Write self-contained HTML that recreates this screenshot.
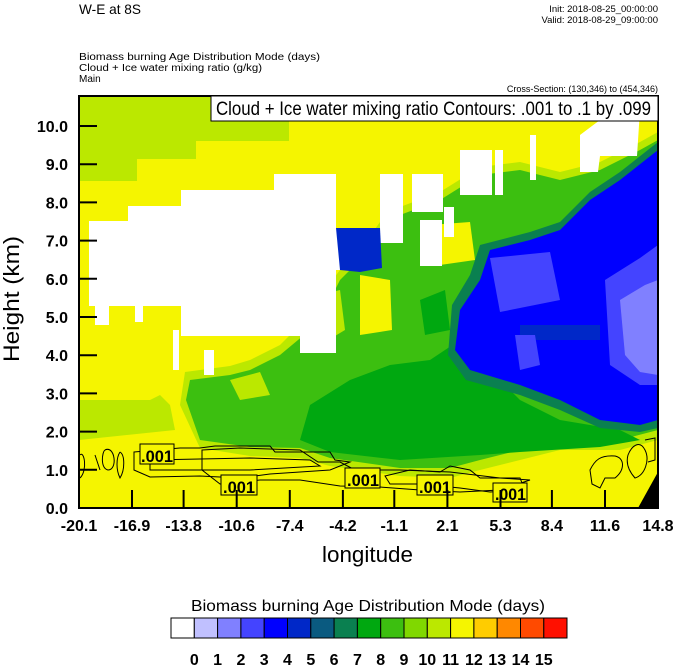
<!DOCTYPE html>
<html><head><meta charset="utf-8"><style>
html,body{margin:0;padding:0;background:#fff}
body{width:674px;height:667px;overflow:hidden}
svg{display:block}
text{font-family:"Liberation Sans",sans-serif}
</style></head><body>
<svg width="674" height="667" viewBox="0 0 674 667" xmlns="http://www.w3.org/2000/svg">
<defs><clipPath id="pc"><rect x="79" y="96" width="579" height="412"/></clipPath></defs>
<g clip-path="url(#pc)">
<rect x="79" y="96" width="579" height="412" fill="#f5f500"/>
<polygon fill="#bbe800" points="79,96 289,96 289,141 196,141 196,159 137,159 137,181 79,181"/>
<polygon fill="#bbe800" points="79,400 150,400 160,395 170,405 175,430 79,440"/>
<polygon fill="#bbe800" points="180,405 185,372 230,366 250,360 280,345 305,320 325,290 340,270 360,250 380,222 400,207 440,192 480,167 520,162 560,172 600,162 640,142 658,132 658,440 620,450 560,450 520,460 480,470 450,478 400,476 330,466 300,458 250,456 200,448"/>
<polygon fill="#3cbf10" points="186,400 190,380 230,375 250,370 280,355 310,330 330,300 340,280 360,260 380,230 400,215 440,200 480,175 520,170 560,180 600,170 640,150 658,140 658,430 620,440 560,440 520,450 480,460 450,468 400,468 330,458 300,448 250,447 200,440"/>
<polygon fill="#f5f500" points="360,275 390,280 392,330 360,335"/>
<polygon fill="#bbe800" points="300,300 340,290 345,330 320,345 300,335"/>
<polygon fill="#f5f500" points="430,225 470,222 475,260 440,265"/>
<polygon fill="#bbe800" points="230,380 260,372 270,395 240,400"/>
<polygon fill="#00a810" points="300,440 310,405 350,380 390,365 430,360 460,340 490,370 520,400 560,420 620,430 640,440 600,447 520,452 480,455 400,460 330,452"/>
<polygon fill="#00a810" points="420,300 445,290 450,330 425,335"/>
<polygon fill="#0a8050" points="480,245 530,232 560,222 590,192 620,172 658,142 658,428 640,432 600,428 560,410 520,395 466,380 448,355 452,305 470,275"/>
<polygon fill="#0000ff" points="490,250 530,240 560,230 590,200 620,180 658,150 658,420 640,425 600,420 560,400 520,385 470,370 455,350 460,310 480,280"/>
<polygon fill="#0028c8" points="520,325 600,325 600,340 520,340"/>
<polygon fill="#4444ff" points="490,258 550,252 560,300 500,312"/>
<polygon fill="#4444ff" points="605,280 640,258 658,245 658,385 640,385 610,365"/>
<polygon fill="#8080ff" points="620,300 645,285 658,280 658,375 640,372 625,355"/>
<polygon fill="#4444ff" points="515,335 535,335 540,365 520,370"/>
<polygon fill="#fff" points="89,221 128,221 128,206 181,206 181,190 274,190 274,174 336,174 336,228 380,228 380,174 403,174 403,243 360,243 360,270 336,270 336,353 300,353 300,336 181,336 181,306 89,306"/>
<rect x="95" y="300" width="14" height="25" fill="#fff"/>
<rect x="135" y="300" width="8" height="22" fill="#fff"/>
<rect x="173" y="330" width="6" height="40" fill="#fff"/>
<rect x="204" y="350" width="10" height="25" fill="#fff"/>
<polygon fill="#0028c8" points="336,228 380,228 382,268 360,272 340,270"/>
<rect x="412" y="174" width="31" height="38" fill="#fff"/>
<rect x="420" y="220" width="22" height="46" fill="#fff"/>
<rect x="444" y="207" width="10" height="30" fill="#fff"/>
<rect x="460" y="150" width="32" height="45" fill="#fff"/>
<rect x="495" y="150" width="8" height="45" fill="#fff"/>
<rect x="530" y="135" width="6" height="45" fill="#fff"/>
<polygon fill="#fff" points="580,135 600,120 600,96 645,96 640,110 637,156 600,156 598,172 580,172"/>
<polygon fill="#000" points="638,508 658,472 658,508"/>
<g fill="none" stroke="#000" stroke-width="1">
<path d="M134,452 L180,448 L200,448 L215,446 L270,446 L275,452 L330,452 L335,460 L350,462 L330,470 L300,472 L270,474 L240,478 L200,476 L150,477 L134,470 Z"/>
<path d="M150,460 L250,458 L310,460 L320,466 L250,470 L150,470 Z"/>
<path d="M202,450 L240,448 L300,450 L318,462 L340,462 L355,470 L400,470 L450,472 L500,478 L530,480 L500,490 L460,492 L420,490 L380,487 L340,486 L300,480 L260,480 L220,484 L202,470 Z"/>
<path d="M80,455 C84,450 88,470 80,478 M95,455 L100,470 M105,450 C115,445 118,470 108,470 C100,468 102,452 105,450 M120,452 C125,455 125,470 120,478 C116,470 116,458 120,452"/>
<path d="M385,476 L410,470 L440,472 L450,466 L470,470 L480,478 L520,478 L525,490 L490,492 L460,488 L420,484 L390,484 Z"/>
<path d="M590,470 C595,460 600,455 615,456 C625,458 625,470 615,478 L605,478 L600,488 L592,484 Z"/>
<path d="M628,455 C632,445 640,440 645,450 C650,460 645,475 635,478 C628,470 626,462 628,455 Z M645,440 L655,438 L655,460 L648,462"/>
</g>
<g fill="#f5f500" stroke="#000" stroke-width="1">
<rect x="140" y="444" width="34" height="20"/>
<rect x="221" y="475" width="36" height="20"/>
<rect x="345" y="468" width="35" height="20"/>
<rect x="417" y="475" width="36" height="20"/>
<rect x="493" y="483" width="34" height="19"/>
</g>
<g font-size="17" fill="#000" font-weight="bold">
<text x="141" y="462" textLength="32" lengthAdjust="spacingAndGlyphs">.001</text><text x="223" y="493" textLength="32" lengthAdjust="spacingAndGlyphs">.001</text><text x="347" y="486" textLength="32" lengthAdjust="spacingAndGlyphs">.001</text><text x="419" y="493" textLength="32" lengthAdjust="spacingAndGlyphs">.001</text><text x="495" y="500" textLength="31" lengthAdjust="spacingAndGlyphs">.001</text>
</g>
</g>
<rect x="79" y="96" width="579" height="412" fill="none" stroke="#000" stroke-width="2"/>
<rect x="211" y="96" width="447" height="25" fill="#fff" stroke="#000" stroke-width="1"/>
<text x="216" y="115" font-size="19" textLength="435" lengthAdjust="spacingAndGlyphs">Cloud + Ice water mixing ratio Contours: .001 to .1 by .099</text>
<g stroke="#000" stroke-width="2">
<line x1="79" y1="469.8" x2="97" y2="469.8"/><line x1="79" y1="431.6" x2="97" y2="431.6"/><line x1="79" y1="393.4" x2="97" y2="393.4"/><line x1="79" y1="355.2" x2="97" y2="355.2"/><line x1="79" y1="317" x2="97" y2="317"/><line x1="79" y1="278.8" x2="97" y2="278.8"/><line x1="79" y1="240.6" x2="97" y2="240.6"/><line x1="79" y1="202.4" x2="97" y2="202.4"/><line x1="79" y1="164.2" x2="97" y2="164.2"/><line x1="79" y1="126" x2="97" y2="126"/>
<line x1="132" y1="508" x2="132" y2="490"/><line x1="183.6" y1="508" x2="183.6" y2="490"/><line x1="236.7" y1="508" x2="236.7" y2="490"/><line x1="289.8" y1="508" x2="289.8" y2="490"/><line x1="342.9" y1="508" x2="342.9" y2="490"/><line x1="394.3" y1="508" x2="394.3" y2="490"/><line x1="447.4" y1="508" x2="447.4" y2="490"/><line x1="500.5" y1="508" x2="500.5" y2="490"/><line x1="551.9" y1="508" x2="551.9" y2="490"/><line x1="605" y1="508" x2="605" y2="490"/>
</g>
<g font-size="16" font-weight="bold" text-anchor="end">
<text x="68" y="514">0.0</text><text x="68" y="476">1.0</text><text x="68" y="437.6">2.0</text><text x="68" y="399.4">3.0</text><text x="68" y="361.2">4.0</text><text x="68" y="323">5.0</text><text x="68" y="284.8">6.0</text><text x="68" y="246.6">7.0</text><text x="68" y="208.4">8.0</text><text x="68" y="170.2">9.0</text><text x="68" y="132">10.0</text>
</g>
<g font-size="16" font-weight="bold" text-anchor="middle">
<text x="79" y="531">-20.1</text><text x="132" y="531">-16.9</text><text x="183.6" y="531">-13.8</text><text x="236.7" y="531">-10.6</text><text x="289.8" y="531">-7.4</text><text x="342.9" y="531">-4.2</text><text x="394.3" y="531">-1.1</text><text x="447.4" y="531">2.1</text><text x="500.5" y="531">5.3</text><text x="551.9" y="531">8.4</text><text x="605" y="531">11.6</text><text x="658" y="531">14.8</text>
</g>
<text x="322" y="562" font-size="22" textLength="91" lengthAdjust="spacingAndGlyphs">longitude</text>
<text transform="translate(19,362) rotate(-90)" font-size="22" textLength="126" lengthAdjust="spacingAndGlyphs">Height (km)</text>
<text x="79" y="14" font-size="14" textLength="62" lengthAdjust="spacingAndGlyphs">W-E at 8S</text>
<text x="658" y="12" font-size="9.5" text-anchor="end">Init: 2018-08-25_00:00:00</text>
<text x="658" y="23" font-size="9.5" text-anchor="end">Valid: 2018-08-29_09:00:00</text>
<text x="79" y="60" font-size="10" textLength="241" lengthAdjust="spacingAndGlyphs">Biomass burning Age Distribution Mode    (days)</text>
<text x="79" y="71" font-size="10" textLength="183" lengthAdjust="spacingAndGlyphs">Cloud + Ice water mixing ratio    (g/kg)</text>
<text x="79" y="82" font-size="10">Main</text>
<text x="658" y="92" font-size="9" text-anchor="end">Cross-Section: (130,346) to (454,346)</text>
<text x="191" y="611" font-size="16" textLength="354" lengthAdjust="spacingAndGlyphs">Biomass burning Age Distribution Mode  (days)</text>
<g stroke="#000" stroke-width="1">
<rect x="171" y="618" width="23.3" height="20" fill="#fff"/>
<rect x="194.3" y="618" width="23.3" height="20" fill="#c0c0ff"/>
<rect x="217.6" y="618" width="23.3" height="20" fill="#8080ff"/>
<rect x="240.9" y="618" width="23.3" height="20" fill="#4444ff"/>
<rect x="264.2" y="618" width="23.3" height="20" fill="#0000ff"/>
<rect x="287.5" y="618" width="23.3" height="20" fill="#0028c8"/>
<rect x="310.8" y="618" width="23.3" height="20" fill="#0a5a80"/>
<rect x="334.1" y="618" width="23.3" height="20" fill="#0a8050"/>
<rect x="357.4" y="618" width="23.3" height="20" fill="#00a810"/>
<rect x="380.7" y="618" width="23.3" height="20" fill="#3cbf10"/>
<rect x="404" y="618" width="23.3" height="20" fill="#80d800"/>
<rect x="427.3" y="618" width="23.3" height="20" fill="#bbe800"/>
<rect x="450.6" y="618" width="23.3" height="20" fill="#f5f500"/>
<rect x="473.9" y="618" width="23.3" height="20" fill="#ffcc00"/>
<rect x="497.2" y="618" width="23.3" height="20" fill="#ff8800"/>
<rect x="520.5" y="618" width="23.3" height="20" fill="#ff4a00"/>
<rect x="543.8" y="618" width="23.2" height="20" fill="#ff1000"/>
</g>
<g font-size="16" font-weight="bold" text-anchor="middle">
<text x="194.3" y="665">0</text><text x="217.6" y="665">1</text><text x="240.9" y="665">2</text><text x="264.2" y="665">3</text><text x="287.5" y="665">4</text><text x="310.8" y="665">5</text><text x="334.1" y="665">6</text><text x="357.4" y="665">7</text><text x="380.7" y="665">8</text><text x="404" y="665">9</text><text x="427.3" y="665">10</text><text x="450.6" y="665">11</text><text x="473.9" y="665">12</text><text x="497.2" y="665">13</text><text x="520.5" y="665">14</text><text x="543.8" y="665">15</text>
</g>
</svg>
</body></html>
